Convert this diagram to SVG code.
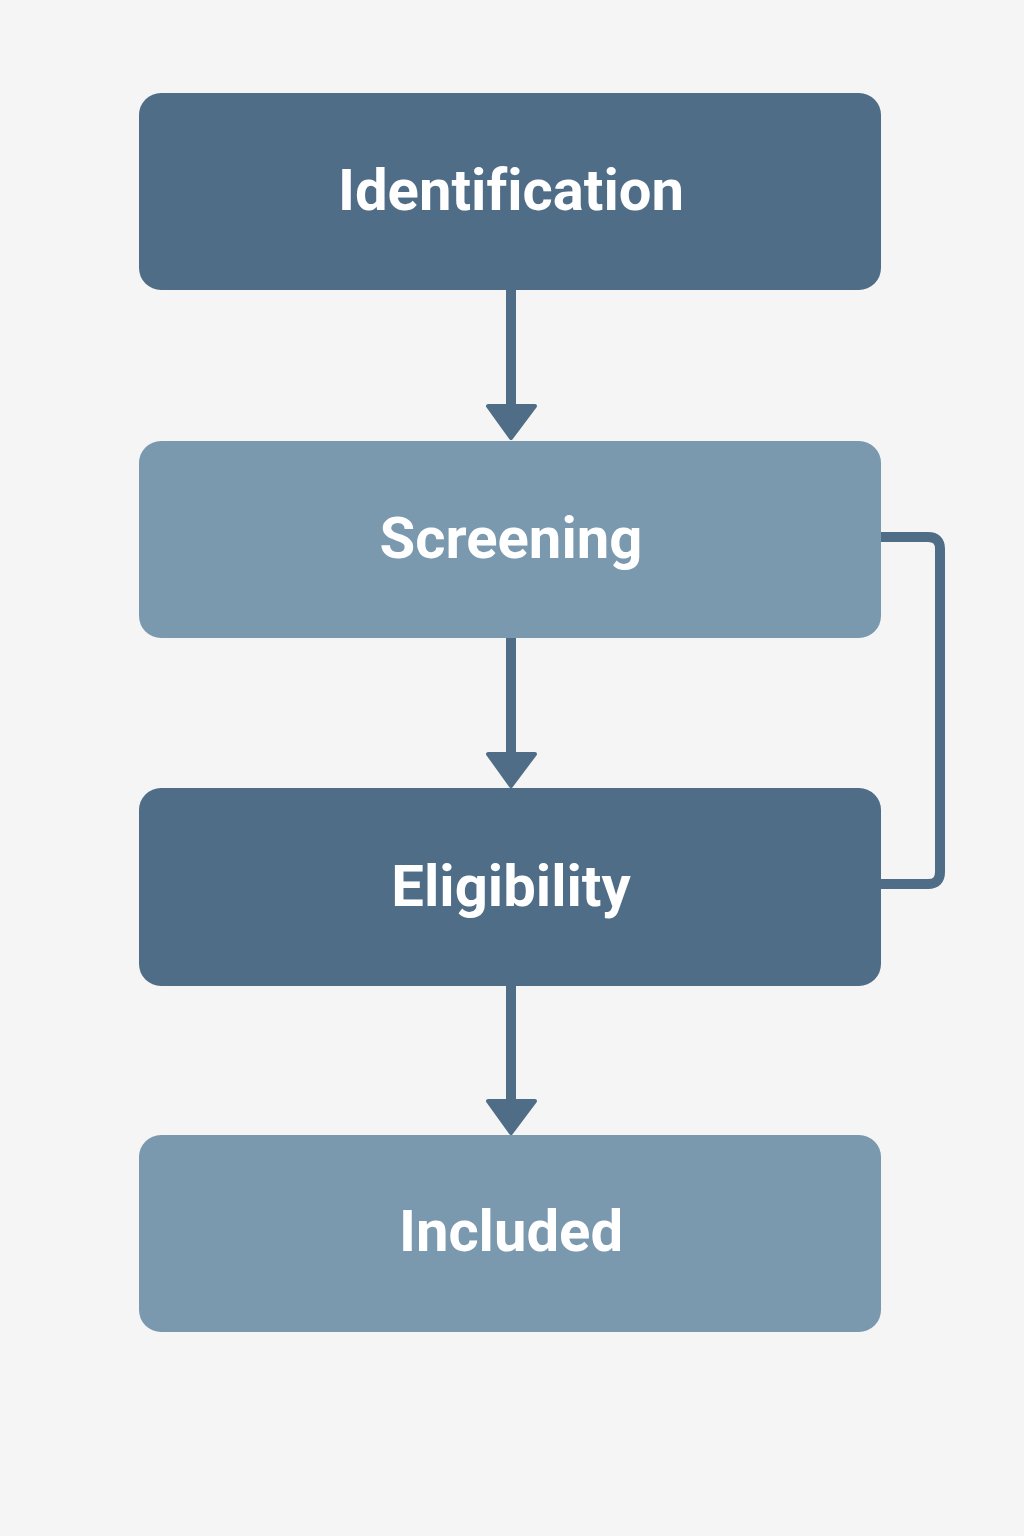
<svg xmlns="http://www.w3.org/2000/svg" width="1024" height="1536" viewBox="0 0 1024 1536">
  <style>
    .dark { fill: #4f6d87; }
    .light { fill: #7a99ae; }
    .lbl { font-family: Roboto, "Liberation Sans", sans-serif; font-weight: 700; font-size: 58px; fill: #ffffff; text-anchor: middle; font-variant-ligatures: none; }
    .conn { stroke: #4f6d87; stroke-width: 10; fill: none; stroke-linejoin: round; }
    .head { fill: #4f6d87; stroke: #4f6d87; stroke-width: 4; stroke-linejoin: round; }
  </style>
  <rect width="1024" height="1536" fill="#f5f5f5"/>
  <g id="connectors">
    <line class="conn" x1="511" y1="290" x2="511" y2="410"/>
    <polygon class="head" points="488,406 535,406 511,438"/>
    <line class="conn" x1="511" y1="638" x2="511" y2="757"/>
    <polygon class="head" points="488,754 535,754 511,786"/>
    <line class="conn" x1="511" y1="986" x2="511" y2="1104"/>
    <polygon class="head" points="488,1101 535,1101 511,1133"/>
    <path class="conn" d="M881,537 H928 Q940,537 940,549 V872 Q940,884 928,884 H881"/>
  </g>
  <g id="identification">
    <rect class="dark" x="139" y="93" width="742" height="197" rx="22"/>
    <text class="lbl" x="511" y="210">Identification</text>
  </g>
  <g id="screening">
    <rect class="light" x="139" y="441" width="742" height="197" rx="22"/>
    <text class="lbl" x="511" y="558">Screening</text>
  </g>
  <g id="eligibility">
    <rect class="dark" x="139" y="788" width="742" height="198" rx="22"/>
    <text class="lbl" x="511" y="906">Eligibility</text>
  </g>
  <g id="included">
    <rect class="light" x="139" y="1135" width="742" height="197" rx="22"/>
    <text class="lbl" x="511" y="1251">Included</text>
  </g>
</svg>
